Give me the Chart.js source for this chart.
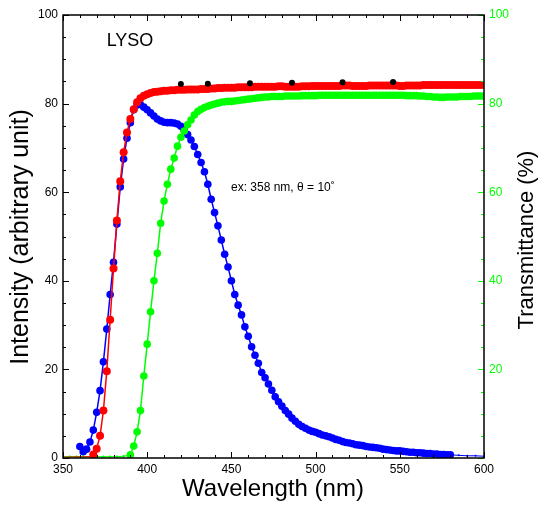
<!DOCTYPE html>
<html>
<head>
<meta charset="utf-8">
<script src="https://cdn.jsdelivr.net/npm/chart.js@4.4.1/dist/chart.umd.min.js"></script>
<style>
  html, body { margin: 0; padding: 0; background: #fff; }
  canvas { display: block; }
</style>
</head>
<body>
<canvas id="myChart" width="540" height="507"></canvas>
<script>
// wavelength grid (nm), every 2 nm
const nm = [
  350,352,354,356,358,360,362,364,366,368,
  370,372,374,376,378,380,382,384,386,388,
  390,392,394,396,398,400,402,404,406,408,
  410,412,414,416,418,420,422,424,426,428,
  430,432,434,436,438,440,442,444,446,448,
  450,452,454,456,458,460,462,464,466,468,
  470,472,474,476,478,480,482,484,486,488,
  490,492,494,496,498,500,502,504,506,508,
  510,512,514,516,518,520,522,524,526,528,
  530,532,534,536,538,540,542,544,546,548,
  550,552,554,556,558,560,562,564,566,568,
  570,572,574,576,578,580,582,584,586,588,
  590,592,594,596,598,600
];

// emission intensity (blue)
const emission = [
  null,null,null,null,null,2.6,1.4,2.0,3.6,6.3,
  10.3,15.2,21.7,29.1,36.9,44.2,52.8,61.2,67.5,72.2,
  75.7,78.6,79.7,79.8,79.2,78.6,77.9,77.2,76.5,76.1,
  75.8,75.7,75.7,75.6,75.4,74.9,74.0,73.0,71.8,70.3,
  68.5,66.7,64.6,61.8,58.4,55.4,52.4,49.2,46.0,43.1,
  40.0,36.9,34.5,32.3,29.6,27.5,25.1,23.2,21.4,19.3,
  18.1,16.7,15.3,13.8,12.7,11.7,10.7,9.9,9.0,8.3,
  7.6,7.1,6.7,6.3,6.0,5.8,5.5,5.2,5.0,4.8,
  4.5,4.2,4.0,3.7,3.5,3.4,3.2,3.0,2.9,2.8,
  2.6,2.5,2.4,2.3,2.2,2.0,1.9,1.8,1.7,1.6,
  1.6,1.5,1.4,1.3,1.3,1.2,1.2,1.1,1.0,1.0,
  0.9,0.9,0.8,0.8,0.7,0.7,null,null,null,null,
  null,null,null,null,null,null
];

// excitation intensity (red)
const excitation = [
  null,null,null,null,null,null,null,null,null,0.8,
  2.1,5.0,10.7,19.6,31.2,42.8,53.6,62.5,69.0,73.5,
  76.5,78.7,80.3,81.2,81.8,82.1,82.4,82.6,82.7,82.8,
  82.9,82.9,83.0,83.0,83.1,83.1,83.1,83.2,83.2,83.2,
  83.2,83.3,83.3,83.3,83.4,83.4,83.5,83.5,83.6,83.6,
  83.6,83.6,83.7,83.7,83.7,83.7,83.7,83.8,83.8,83.8,
  83.8,83.8,83.8,83.8,83.9,83.9,83.8,83.8,83.8,83.8,
  83.8,83.9,83.9,83.9,84.0,84.0,84.0,84.0,84.0,84.0,
  84.0,84.0,84.0,84.1,84.1,84.1,84.0,84.0,84.0,84.0,
  84.0,84.1,84.1,84.1,84.1,84.1,84.1,84.1,84.1,84.1,
  84.0,84.0,84.1,84.1,84.1,84.1,84.1,84.2,84.2,84.2,
  84.2,84.2,84.2,84.2,84.2,84.2,84.2,84.2,84.2,84.2,
  84.2,84.2,84.2,84.2,84.2,84.2
];

// transmittance % (green, right axis)
const transmittance = [
  null,null,null,null,null,null,null,null,null,null,
  null,null,null,null,null,null,null,null,null,null,
  0.7,2.7,5.9,10.7,18.5,25.7,33.0,40.0,46.2,53.0,
  58.0,61.8,65.2,67.7,70.4,72.4,73.8,75.2,76.3,77.4,
  78.2,78.7,79.1,79.4,79.7,79.9,80.1,80.3,80.4,80.5,
  80.5,80.6,80.7,80.8,80.9,81.0,81.1,81.2,81.3,81.4,
  81.5,81.5,81.6,81.6,81.6,81.6,81.7,81.7,81.7,81.7,
  81.7,81.8,81.8,81.8,81.8,81.8,81.9,81.9,81.9,81.9,
  81.9,81.9,81.9,81.9,81.9,81.9,81.9,81.9,81.9,81.9,
  81.9,81.9,81.9,81.9,81.9,81.9,81.9,81.9,81.9,81.9,
  81.9,81.9,81.8,81.8,81.8,81.8,81.7,81.7,81.6,81.6,
  81.5,81.5,81.4,81.4,81.5,81.5,81.5,81.5,81.6,81.6,
  81.6,81.6,81.7,81.7,81.7,81.7
];

// faint baselines outside the measured ranges
const redBaseNm = [350, 366, 368];
const redBaseVal = [0.2, 0.3, 0.8];
const greenBaseNm = [350, 354, 358, 362, 366, 370, 374, 378, 382, 386, 390];
const greenBaseVal = [0.3, 0.3, 0.3, 0.3, 0.3, 0.3, 0.3, 0.3, 0.3, 0.4, 0.7];
const blueTailNm = [580, 585, 590, 595, 600];
const blueTailVal = [0.7, 0.6, 0.5, 0.5, 0.4];

// black reference marks above the red curve
const markNm = [420, 436, 461, 486, 516, 546];
const markVal = [84.4, 84.5, 84.6, 84.7, 84.8, 84.9];

const xTicks = [350, 400, 450, 500, 550, 600];
const yTicks = [0, 20, 40, 60, 80, 100];

const FONT = '"Liberation Sans", Arial, Helvetica, sans-serif';

let pts = function(xs, ys) {
  let o = [];
  for (let i = 0; i < xs.length; i++) {
    if (ys[i] !== null) o.push({x: xs[i], y: ys[i]});
  }
  return o;
};

// frame, inward ticks and all the free text
const frame = {
  id: 'frame',
  afterDraw(chart) {
    const ctx = chart.ctx;
    const a = chart.chartArea;
    const sx = chart.scales.x, sy = chart.scales.y;
    ctx.save();
    ctx.lineWidth = 1;

    // ticks on the bottom and top
    ctx.strokeStyle = '#000';
    ctx.beginPath();
    for (let v = 350; v <= 600; v += 10) {
      const px = Math.round(sx.getPixelForValue(v)) + 0.5;
      const len = (v % 50 === 0) ? 6 : 3;
      ctx.moveTo(px, a.bottom); ctx.lineTo(px, a.bottom - len);
      ctx.moveTo(px, a.top); ctx.lineTo(px, a.top + len);
    }
    // ticks on the left
    for (let v = 0; v <= 100; v += 5) {
      const py = Math.round(sy.getPixelForValue(v)) + 0.5;
      const len = (v % 20 === 0) ? 6 : 3;
      ctx.moveTo(a.left, py); ctx.lineTo(a.left + len, py);
    }
    ctx.stroke();

    // green ticks on the right
    ctx.strokeStyle = '#00ff00';
    ctx.beginPath();
    for (let v = 0; v <= 100; v += 5) {
      const py = Math.round(sy.getPixelForValue(v)) + 0.5;
      const len = (v % 20 === 0) ? 6 : 3;
      ctx.moveTo(a.right, py); ctx.lineTo(a.right - len, py);
    }
    ctx.stroke();

    // frame
    ctx.strokeStyle = '#000';
    ctx.lineWidth = 1.5;
    ctx.strokeRect(Math.round(a.left), Math.round(a.top),
      Math.round(a.right - a.left), Math.round(a.bottom - a.top));

    // texts
    ctx.fillStyle = '#000';
    ctx.textAlign = 'center';
    ctx.textBaseline = 'middle';
    ctx.font = '18px ' + FONT;
    ctx.fillText('LYSO', 130, 41);
    ctx.font = '12px ' + FONT;
    ctx.textAlign = 'left';
    ctx.fillText('ex: 358 nm, \u03b8 = 10\u02da', 231, 188);

    ctx.textAlign = 'center';
    ctx.font = '24px ' + FONT;
    ctx.fillText('Wavelength (nm)', 273, 489);

    ctx.save();
    ctx.font = '25px ' + FONT;
    ctx.translate(21, 237);
    ctx.rotate(-Math.PI / 2);
    ctx.fillText('Intensity (arbitrary unit)', 0, 0);
    ctx.restore();

    ctx.save();
    ctx.font = '22px ' + FONT;
    ctx.translate(527, 240);
    ctx.rotate(-Math.PI / 2);
    ctx.fillText('Transmittance (%)', 0, 0);
    ctx.restore();

    ctx.restore();
  }
};

Chart.defaults.font.family = FONT;
Chart.defaults.color = '#000';

const ctx = document.getElementById('myChart');

let chart = new Chart(ctx, {
  type: 'line',
  data: {
    datasets: [
      {
        label: 'marks',
        data: pts(markNm, markVal),
        showLine: false,
        pointRadius: 3,
        pointBackgroundColor: '#000',
        pointBorderWidth: 0
      },
      {
        label: 'excitation',
        data: pts(nm, excitation),
        borderColor: '#ff0000',
        borderWidth: 1.5,
        pointRadius: 4,
        pointBackgroundColor: '#ff0000',
        pointBorderWidth: 0
      },
      {
        label: 'excitation base',
        data: pts(redBaseNm, redBaseVal),
        borderColor: '#ff0000',
        borderWidth: 1,
        pointRadius: 0
      },
      {
        label: 'transmittance',
        yAxisID: 'y2',
        data: pts(nm, transmittance),
        borderColor: '#00ff00',
        borderWidth: 1.5,
        pointRadius: 3.8,
        pointBackgroundColor: '#00ff00',
        pointBorderWidth: 0
      },
      {
        label: 'transmittance base',
        yAxisID: 'y2',
        data: pts(greenBaseNm, greenBaseVal),
        borderColor: '#00ff00',
        borderWidth: 1,
        pointRadius: 1.2,
        pointBackgroundColor: '#00ff00',
        pointBorderWidth: 0
      },
      {
        label: 'emission',
        data: pts(nm, emission),
        borderColor: '#0000ff',
        borderWidth: 1.5,
        pointRadius: 3.8,
        pointBackgroundColor: '#0000ff',
        pointBorderWidth: 0
      },
      {
        label: 'emission tail',
        data: pts(blueTailNm, blueTailVal),
        borderColor: '#0000ff',
        borderWidth: 1,
        pointRadius: 1,
        pointBackgroundColor: '#0000ff',
        pointBorderWidth: 0
      }
    ]
  },
  options: {
    responsive: false,
    animation: false,
    layout: { padding: { top: 15, left: 0, right: 0, bottom: 0 } },
    elements: { line: { tension: 0 } },
    plugins: {
      legend: { display: false },
      tooltip: { enabled: false }
    },
    scales: {
      x: {
        type: 'linear',
        min: 350,
        max: 600,
        grid: { display: false, drawTicks: false },
        border: { display: false },
        afterBuildTicks: s => { s.ticks = xTicks.map(v => ({value: v})); },
        ticks: { padding: 4, font: { size: 12 }, maxRotation: 0, autoSkip: false, color: '#000' },
        afterFit: s => { s.height = 49; }
      },
      y: {
        position: 'left',
        min: 0,
        max: 100,
        grid: { display: false, drawTicks: false },
        border: { display: false },
        afterBuildTicks: s => { s.ticks = yTicks.map(v => ({value: v})); },
        ticks: { padding: 5, font: { size: 12 }, color: '#000' },
        afterFit: s => { s.width = 63; }
      },
      y2: {
        position: 'right',
        min: 0,
        max: 100,
        grid: { display: false, drawTicks: false },
        border: { display: false },
        afterBuildTicks: s => { s.ticks = yTicks.map(v => ({value: v})); },
        ticks: {
          padding: 5,
          font: { size: 12 },
          color: '#00ff00',
          callback: v => (v === 0 ? '' : v)
        },
        afterFit: s => { s.width = 56; }
      }
    }
  },
  plugins: [frame]
});
</script>
</body>
</html>
